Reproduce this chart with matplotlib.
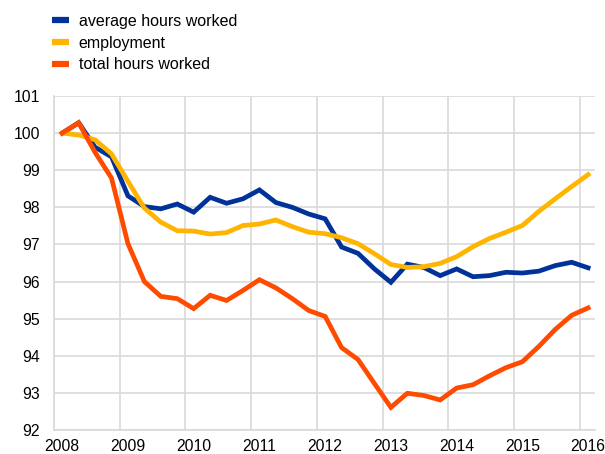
import numpy as np
import matplotlib.pyplot as plt
from matplotlib.lines import Line2D

plt.rcParams['font.family'] = ['Liberation Sans', 'DejaVu Sans']

# quarterly data 2008Q1 - 2016Q1, index 2008Q1 = 100
avg_hours = [100.0, 100.28, 99.62, 99.36, 98.31, 98.02, 97.96, 98.09, 97.87, 98.27,
             98.11, 98.23, 98.47, 98.13, 98.0, 97.82, 97.69, 96.93, 96.76, 96.34,
             95.98, 96.47, 96.38, 96.16, 96.34, 96.13, 96.16, 96.25, 96.23, 96.28,
             96.43, 96.52, 96.37]
employment = [100.0, 99.95, 99.82, 99.44, 98.7, 97.98, 97.6, 97.37, 97.36, 97.28,
              97.32, 97.51, 97.55, 97.66, 97.48, 97.33, 97.29, 97.18, 97.02, 96.75,
              96.46, 96.38, 96.40, 96.49, 96.67, 96.94, 97.16, 97.33, 97.51, 97.89,
              98.23, 98.56, 98.88]
total_hours = [100.0, 100.28, 99.48, 98.79, 97.02, 96.0, 95.6, 95.54, 95.27, 95.63,
               95.49, 95.76, 96.05, 95.83, 95.54, 95.22, 95.06, 94.22, 93.9, 93.25,
               92.61, 92.99, 92.93, 92.81, 93.13, 93.22, 93.46, 93.68, 93.84, 94.25,
               94.71, 95.09, 95.29]
labels = ['average hours worked', 'employment', 'total hours worked']
colors = ['#003299', '#FFB400', '#FF4B00']
years = list(range(2008, 2017))

# place each quarter in the middle of its period
x = 2008 + (np.arange(len(avg_hours)) + 0.5) / 4

fig = plt.figure(figsize=(6.05, 4.54), dpi=100)
ax = fig.add_axes([54 / 605, 1 - 430 / 454, (595 - 54) / 605, (430 - 96) / 454])

for series, c in zip([avg_hours, employment, total_hours], colors):
    ax.plot(x, series, color=c, lw=3.4, solid_joinstyle='miter')

# draw order in the reference: orange on top
ax.lines[2].set_zorder(3)

ax.set_xlim(2008, 2016.23)
ax.set_ylim(92, 101)
ax.set_yticks(range(92, 102))
ax.set_xticks(years, minor=True)
ax.set_xticks([y + 0.125 for y in years])
ax.set_xticklabels([str(y) for y in years])
ax.grid(True, which='minor', axis='x', color='#d9d9d9', lw=1.2)
ax.grid(True, which='major', axis='y', color='#d9d9d9', lw=1.2)
ax.set_axisbelow(True)
ax.tick_params(which='both', length=0, labelsize=11.3, colors='black')
ax.tick_params(axis='y', pad=10)
ax.tick_params(axis='x', pad=6.5)
for s in ['top', 'right']:
    ax.spines[s].set_visible(False)
for s in ['left', 'bottom']:
    ax.spines[s].set_color('#d9d9d9')
    ax.spines[s].set_linewidth(1.2)

handles = [Line2D([], [], color=c, lw=4.5, solid_capstyle='butt') for c in colors]
fig.legend(handles, labels, loc='upper left', bbox_to_anchor=(52 / 605, 1 - 14 / 454),
           frameon=False, fontsize=11.5, handlelength=1.05, handletextpad=0.62,
           labelspacing=0.42, borderpad=0, borderaxespad=0)

fig.savefig('out.png', dpi=100)
